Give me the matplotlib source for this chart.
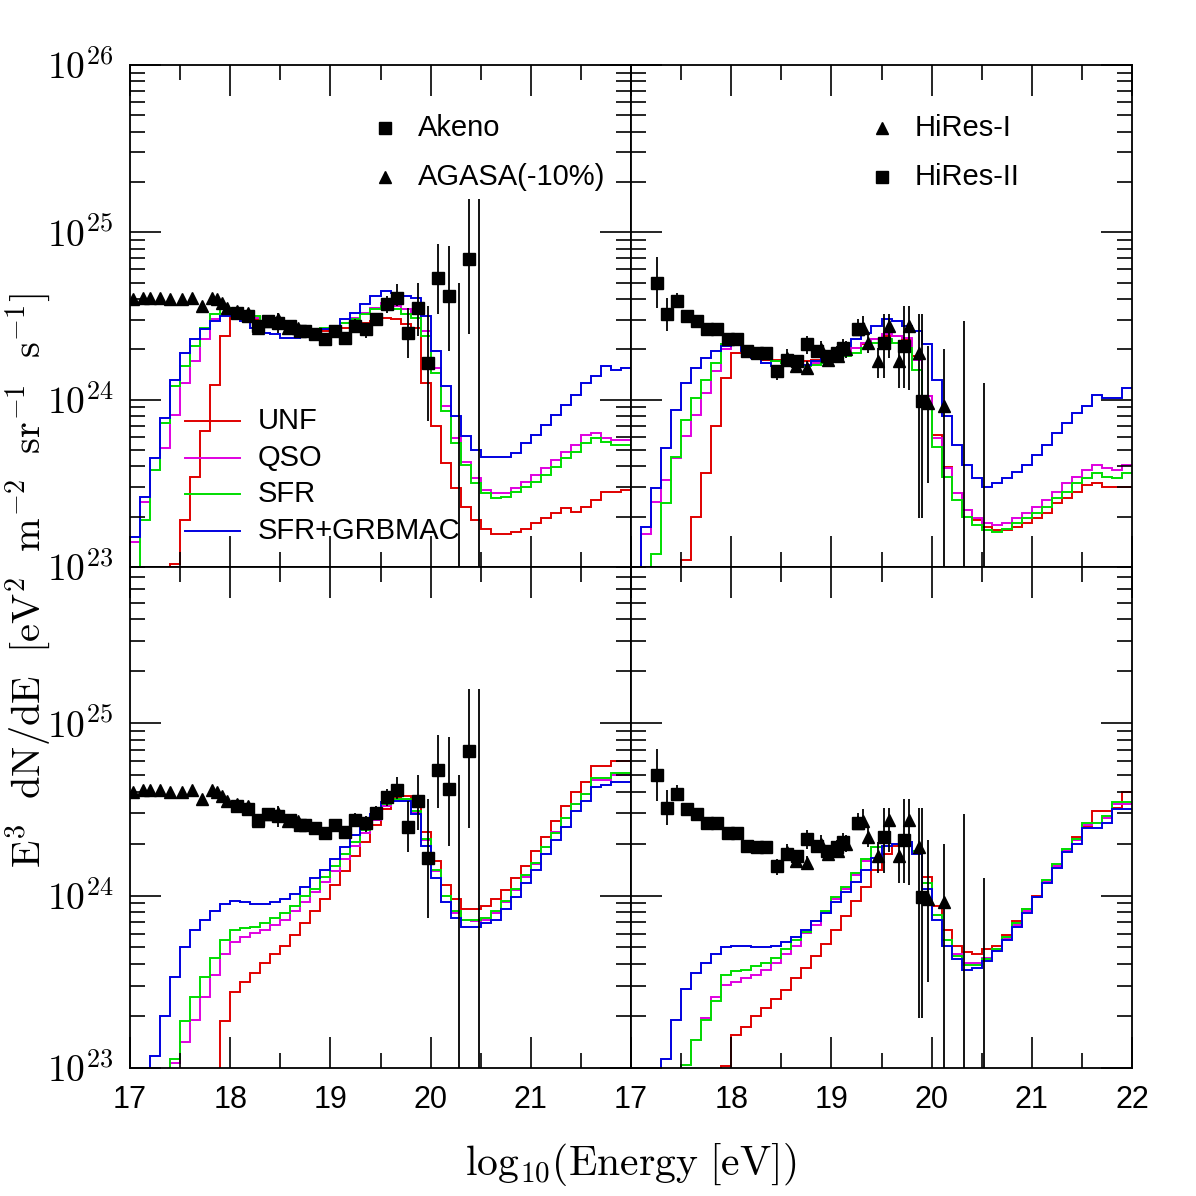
import numpy as np
import matplotlib
matplotlib.use("Agg")
import matplotlib.pyplot as plt
from matplotlib.ticker import FixedLocator, NullFormatter, LogLocator

plt.rcParams["mathtext.fontset"] = "cm"

# log10(E^3 dN/dE) in 0.1-decade bins from log10E = 17.0 to 22.0
tl_unf = [22.8,22.8,22.8,22.8,23.02,23.28,23.54,23.81,24.09,24.38, 24.51,24.50,24.48,24.46,24.44,24.43,24.42,24.41,24.41,24.41,
          24.42,24.43,24.44,24.46,24.47,24.49,24.48,24.45,24.43,24.10, 23.84,23.62,23.47,23.36,23.28,23.23,23.20,23.20,23.21,23.23,
          23.26,23.29,23.32,23.35,23.33,23.36,23.40,23.45,23.45,23.46]
tl_qso = [23.15,23.39,23.58,23.71,23.91,24.10,24.23,24.36,24.48,24.51, 24.54,24.51,24.49,24.47,24.45,24.43,24.42,24.41,24.41,24.42,
          24.44,24.46,24.49,24.52,24.55,24.58,24.56,24.54,24.51,24.41, 24.19,23.96,23.77,23.63,23.53,23.46,23.44,23.44,23.47,23.51,
          23.55,23.59,23.64,23.69,23.73,23.79,23.80,23.77,23.76,23.76]
tl_sfr = [22.8,23.28,23.58,23.86,24.08,24.20,24.32,24.43,24.51,24.54, 24.55,24.53,24.50,24.47,24.44,24.42,24.41,24.41,24.42,24.43,
          24.44,24.46,24.48,24.51,24.54,24.56,24.54,24.51,24.49,24.38, 24.16,23.93,23.74,23.61,23.50,23.44,23.41,23.42,23.45,23.48,
          23.51,23.55,23.60,23.65,23.69,23.74,23.77,23.75,23.73,23.73]
tl_grb = [23.18,23.42,23.65,23.89,24.12,24.28,24.36,24.42,24.47,24.50, 24.50,24.47,24.43,24.40,24.39,24.37,24.37,24.38,24.40,24.42,
          24.44,24.48,24.52,24.57,24.62,24.65,24.64,24.62,24.61,24.50, 24.29,24.08,23.90,23.78,23.70,23.66,23.66,23.66,23.68,23.74,
          23.79,23.85,23.91,23.97,24.03,24.10,24.14,24.20,24.18,24.19]

tr_unf = [22.8,22.8,22.8,22.8,22.8,23.04,23.30,23.56,23.84,24.13, 24.28,24.28,24.26,24.24,24.24,24.23,24.23,24.23,24.24,24.25,
          24.27,24.29,24.31,24.33,24.36,24.38,24.38,24.36,24.26,24.02, 23.79,23.60,23.44,23.34,23.28,23.24,23.22,23.22,23.24,23.26,
          23.29,23.32,23.38,23.41,23.45,23.49,23.50,23.48,23.48,23.48]
tr_qso = [22.8,23.20,23.39,23.52,23.65,23.78,23.91,24.04,24.17,24.30, 24.34,24.32,24.28,24.25,24.23,24.22,24.21,24.21,24.22,24.24,
          24.26,24.28,24.31,24.34,24.36,24.39,24.38,24.37,24.24,24.02, 23.77,23.59,23.44,23.34,23.29,23.26,23.25,23.26,23.29,23.32,
          23.36,23.40,23.45,23.50,23.54,23.58,23.61,23.59,23.58,23.61]
tr_sfr = [22.8,22.8,23.08,23.38,23.66,23.88,24.01,24.12,24.22,24.33, 24.36,24.32,24.28,24.26,24.23,24.22,24.20,24.20,24.21,24.22,
          24.24,24.26,24.28,24.31,24.34,24.36,24.34,24.31,24.18,23.96, 23.72,23.54,23.40,23.30,23.25,23.22,23.21,23.23,23.26,23.29,
          23.32,23.36,23.41,23.45,23.50,23.53,23.56,23.54,23.53,23.56]
tr_grb = [22.8,23.24,23.47,23.71,23.94,24.10,24.19,24.25,24.29,24.32, 24.34,24.29,24.25,24.22,24.20,24.20,24.20,24.21,24.23,24.25,
          24.28,24.32,24.36,24.40,24.44,24.48,24.47,24.44,24.41,24.33, 24.12,23.90,23.73,23.61,23.53,23.48,23.50,23.53,23.57,23.61,
          23.67,23.73,23.80,23.86,23.92,23.96,24.03,24.01,24.01,24.07]

bl_unf = [22.8,22.8,22.8,22.8,22.8,22.8,22.8,22.8,22.8,23.27, 23.44,23.50,23.55,23.61,23.66,23.71,23.77,23.84,23.91,23.98,
          24.06,24.14,24.23,24.31,24.41,24.50,24.57,24.58,24.54,24.37, 24.20,24.06,23.98,23.92,23.92,23.94,23.98,24.03,24.10,24.17,
          24.26,24.34,24.43,24.52,24.60,24.66,24.75,24.75,24.78,24.78]
bl_qso = [22.8,22.8,22.8,22.8,23.03,23.15,23.28,23.41,23.54,23.66, 23.73,23.76,23.78,23.80,23.83,23.86,23.91,23.96,24.02,24.08,
          24.14,24.21,24.29,24.36,24.44,24.52,24.56,24.56,24.48,24.32, 24.14,24.00,23.90,23.86,23.85,23.86,23.90,23.96,24.03,24.11,
          24.18,24.28,24.37,24.45,24.53,24.59,24.67,24.67,24.70,24.70]
bl_sfr = [22.8,22.8,22.8,22.8,23.05,23.27,23.41,23.53,23.64,23.74, 23.80,23.81,23.82,23.84,23.87,23.90,23.94,24.00,24.04,24.11,
          24.17,24.24,24.31,24.38,24.46,24.53,24.56,24.56,24.49,24.33, 24.15,24.00,23.91,23.86,23.86,23.87,23.91,23.97,24.04,24.12,
          24.19,24.28,24.36,24.45,24.53,24.59,24.68,24.68,24.71,24.71]
bl_grb = [22.8,22.8,23.07,23.30,23.53,23.70,23.80,23.86,23.91,23.95, 23.97,23.96,23.95,23.95,23.96,23.98,24.01,24.05,24.10,24.15,
          24.21,24.28,24.35,24.40,24.47,24.54,24.55,24.55,24.47,24.29, 24.10,23.96,23.87,23.82,23.82,23.84,23.86,23.92,23.99,24.07,
          24.15,24.24,24.32,24.40,24.49,24.55,24.63,24.64,24.66,24.66]

br_unf = [22.8,22.8,22.8,22.8,22.8,22.8,22.8,22.8,22.8,23.01, 23.19,23.24,23.30,23.35,23.40,23.45,23.52,23.58,23.65,23.72,
          23.80,23.88,23.97,24.05,24.15,24.24,24.29,24.30,24.26,24.11, 23.94,23.80,23.71,23.67,23.66,23.69,23.71,23.77,23.85,23.92,
          24.00,24.08,24.17,24.26,24.34,24.40,24.49,24.49,24.51,24.60]
br_qso = [22.8,22.8,22.8,22.8,22.8,23.02,23.16,23.29,23.41,23.48, 23.50,23.52,23.54,23.57,23.61,23.66,23.71,23.78,23.83,23.90,
          23.98,24.04,24.12,24.20,24.28,24.29,24.30,24.30,24.26,24.07, 23.89,23.74,23.66,23.61,23.61,23.64,23.69,23.75,23.83,23.91,
          23.99,24.08,24.17,24.26,24.32,24.41,24.42,24.45,24.53,24.53]
br_sfr = [22.8,22.8,22.8,22.8,22.8,23.02,23.16,23.28,23.39,23.54, 23.56,23.57,23.59,23.61,23.64,23.69,23.74,23.79,23.85,23.91,
          23.99,24.05,24.13,24.21,24.28,24.29,24.30,24.30,24.26,24.07, 23.89,23.74,23.65,23.60,23.60,23.63,23.69,23.76,23.84,23.92,
          23.99,24.09,24.18,24.27,24.33,24.42,24.42,24.46,24.54,24.54]
br_grb = [22.8,22.8,22.8,23.05,23.28,23.46,23.55,23.61,23.66,23.70, 23.71,23.71,23.70,23.70,23.71,23.73,23.76,23.80,23.85,23.90,
          23.96,24.02,24.08,24.15,24.22,24.29,24.30,24.31,24.24,24.04, 23.86,23.71,23.63,23.57,23.58,23.62,23.68,23.74,23.82,23.90,
          23.99,24.07,24.16,24.25,24.30,24.39,24.39,24.42,24.50,24.50]

# Data points: log10 E, log10 flux, lower/upper error (log10)
agasa_x = [17.03,17.13,17.2,17.3,17.4,17.52,17.62,17.72,17.82,17.87,17.92,17.97,18.07,18.18,18.28,18.38,18.48,18.58,18.68]
agasa_y = [24.60,24.61,24.61,24.61,24.60,24.60,24.61,24.56,24.61,24.60,24.58,24.55,24.53,24.52,24.43,24.47,24.48,24.43,24.43]
akeno_x = [18.07,18.18,18.28,18.38,18.48,18.6,18.7,18.75,18.85,18.95,19.05,19.15,19.25,19.36,19.46,19.56,19.66,19.77,19.87,19.97,20.07,20.18,20.38]
akeno_y = [24.52,24.50,24.44,24.47,24.46,24.44,24.41,24.41,24.39,24.36,24.41,24.37,24.44,24.42,24.48,24.57,24.61,24.40,24.55,24.22,24.73,24.62,24.84]
akeno_lo = [24.50,24.48,24.42,24.45,24.40,24.42,24.39,24.39,24.37,24.34,24.39,24.35,24.40,24.37,24.44,24.52,24.56,24.25,24.38,23.87,24.51,24.29,24.39]
akeno_hi = [24.54,24.52,24.46,24.49,24.52,24.46,24.43,24.43,24.41,24.38,24.43,24.39,24.48,24.46,24.52,24.62,24.69,24.55,24.70,24.56,24.93,24.92,25.20]
akeno_lim_x = [20.28, 20.48]
akeno_lim_hi = [24.70, 25.20]

hires2_x = [17.26,17.36,17.46,17.56,17.66,17.76,17.86,17.97,18.06,18.16,18.26,18.35,18.46,18.56,18.66,18.76,18.86,18.96,19.06,19.12,19.27,19.52,19.72,19.90]
hires2_y = [24.70,24.51,24.59,24.50,24.47,24.42,24.42,24.36,24.36,24.29,24.28,24.28,24.17,24.24,24.23,24.33,24.29,24.26,24.28,24.31,24.42,24.34,24.32,23.99]
hires2_lo = [24.55,24.41,24.55,24.47,24.45,24.41,24.41,24.35,24.35,24.28,24.26,24.26,24.12,24.21,24.20,24.27,24.26,24.23,24.24,24.26,24.38,24.13,24.07,23.29]
hires2_hi = [24.85,24.61,24.64,24.53,24.49,24.43,24.43,24.37,24.37,24.30,24.30,24.30,24.21,24.27,24.26,24.38,24.32,24.29,24.32,24.36,24.46,24.51,24.56,24.51]
hires1_x = [18.56,18.65,18.76,18.90,18.97,19.07,19.15,19.27,19.32,19.37,19.47,19.57,19.67,19.77,19.87,19.96,20.12]
hires1_y = [24.25,24.20,24.19,24.30,24.24,24.26,24.30,24.42,24.43,24.34,24.23,24.44,24.23,24.44,24.28,23.98,23.96]
hires1_lo = [24.20,24.16,24.15,24.25,24.20,24.22,24.25,24.38,24.38,24.28,24.13,24.25,24.07,24.06,23.29,23.50,22.5]
hires1_hi = [24.30,24.24,24.23,24.35,24.28,24.30,24.35,24.48,24.50,24.40,24.31,24.51,24.35,24.56,24.51,24.32,24.30]
hires_lim_x = [20.32, 20.52]
hires_lim_hi = [24.47, 24.10]

models = ["UNF", "QSO", "SFR", "SFR+GRBMAC"]
colors = ["#e00000", "#e000e0", "#00dd00", "#0000e0"]
panels = {
    (0, 0): [tl_unf, tl_qso, tl_sfr, tl_grb],
    (0, 1): [tr_unf, tr_qso, tr_sfr, tr_grb],
    (1, 0): [bl_unf, bl_qso, bl_sfr, bl_grb],
    (1, 1): [br_unf, br_qso, br_sfr, br_grb],
}
edges = np.round(np.arange(17.0, 22.001, 0.1), 2)

fig = plt.figure(figsize=(11.96, 11.96), dpi=100)
W = 501 / 1196
axes = {}
for r in range(2):
    for c in range(2):
        left = 130 / 1196 + c * W
        if r == 0:
            ax = fig.add_axes([left, (1196 - 567) / 1196, W, 502 / 1196])
            ax.set_ylim(1e23, 1e26)
        else:
            ax = fig.add_axes([left, (1196 - 1068) / 1196, W, 501 / 1196])
            ax.set_ylim(1e23, 10 ** 25.905)
        ax.set_yscale("log")
        ax.set_xlim(17, 22)
        axes[(r, c)] = ax

def err(ax, x, y, lo, hi, marker):
    y = np.array(y); lo = np.array(lo); hi = np.array(hi)
    ax.errorbar(x, 10 ** y, yerr=[10 ** y - 10 ** lo, 10 ** hi - 10 ** y], fmt=marker,
                color="black", ms=9, ecolor="black", elinewidth=1.3, capsize=0, zorder=5)

for (r, c), ax in axes.items():
    for vals, col in zip(panels[(r, c)], colors):
        ax.stairs(10 ** np.array(vals), edges, color=col, lw=1.4, baseline=None)
    if c == 0:
        ax.errorbar(agasa_x, 10 ** np.array(agasa_y), yerr=None, fmt="^", color="black", ms=9, zorder=5)
        err(ax, akeno_x, akeno_y, akeno_lo, akeno_hi, "s")
        ax.vlines(akeno_lim_x, 1e22, 10 ** np.array(akeno_lim_hi), color="black", lw=1.3)
    else:
        err(ax, hires1_x, hires1_y, hires1_lo, hires1_hi, "^")
        err(ax, hires2_x, hires2_y, hires2_lo, hires2_hi, "s")
        ax.vlines(hires_lim_x, 1e22, 10 ** np.array(hires_lim_hi), color="black", lw=1.3)

    ax.tick_params(which="both", direction="in", top=True, right=True, labelsize=22, width=1.2)
    ax.tick_params(which="major", length=22, pad=12)
    ax.tick_params(which="minor", length=11)
    ax.xaxis.set_major_locator(FixedLocator([17, 18, 19, 20, 21, 22]))
    ax.xaxis.set_minor_locator(FixedLocator([17.5, 18.5, 19.5, 20.5, 21.5]))
    ax.yaxis.set_major_locator(LogLocator(base=10, numticks=10))
    ax.yaxis.set_minor_locator(LogLocator(base=10, subs=np.arange(2, 10), numticks=10))
    ax.yaxis.set_minor_formatter(NullFormatter())
    for sp in ax.spines.values():
        sp.set_linewidth(1.3)
    if r == 0:
        ax.set_xticklabels([])
    else:
        labs = ["17", "18", "19", "20", "21", "22"] if c == 1 else ["17", "18", "19", "20", "21", ""]
        ax.set_xticklabels(labs, fontfamily="Liberation Sans")
    if c == 1:
        ax.set_yticklabels([])
    else:
        if r == 0:
            yt = [1e23, 1e24, 1e25, 1e26]
            yl = [r"$\mathrm{10^{23}}$", r"$\mathrm{10^{24}}$", r"$\mathrm{10^{25}}$", r"$\mathrm{10^{26}}$"]
        else:
            yt = [1e23, 1e24, 1e25]
            yl = [r"$\mathrm{10^{23}}$", r"$\mathrm{10^{24}}$", r"$\mathrm{10^{25}}$"]
        ax.set_yticks(yt)
        ax.set_yticklabels(yl, fontsize=27)
        ax.yaxis.set_minor_formatter(NullFormatter())

# legends (top-left models + data, top-right HiRes)
ax = axes[(0, 0)]
for i, (m, col) in enumerate(zip(models, colors)):
    yy = 1 - (421 + 36.7 * i - 65) / 502
    ax.plot([0.11, 0.22], [yy, yy], color=col, lw=1.4, transform=ax.transAxes)
    ax.text(0.255, yy, m, transform=ax.transAxes, fontsize=21, va="center", fontfamily="Liberation Sans")
for i, (lab, mk) in enumerate([("Akeno", "s"), ("AGASA(-10%)", "^")]):
    yy = 1 - (128 + 49 * i - 65) / 502
    ax.plot([0.508], [yy], marker=mk, color="black", ms=9, transform=ax.transAxes)
    ax.text(0.575, yy, lab, transform=ax.transAxes, fontsize=21, va="center", fontfamily="Liberation Sans")
ax = axes[(0, 1)]
for i, (lab, mk) in enumerate([("HiRes-I", "^"), ("HiRes-II", "s")]):
    yy = 1 - (128 + 49 * i - 65) / 502
    ax.plot([0.5], [yy], marker=mk, color="black", ms=9, transform=ax.transAxes)
    ax.text(0.566, yy, lab, transform=ax.transAxes, fontsize=21, va="center", fontfamily="Liberation Sans")

fig.text(631 / 1196, 1 - 1165 / 1196, r"$\mathrm{log_{10}(Energy\ [eV])}$", ha="center", va="center",
         fontsize=30)
fig.text(28 / 1196, 1 - 580 / 1196, r"$\mathrm{E^3\ \ dN/dE\ \ [eV^2\ \ m^{-2}\ \ sr^{-1}\ \ s^{-1}]}$",
         ha="center", va="center", rotation=90, fontsize=29)

fig.savefig("out.png", dpi=100)
